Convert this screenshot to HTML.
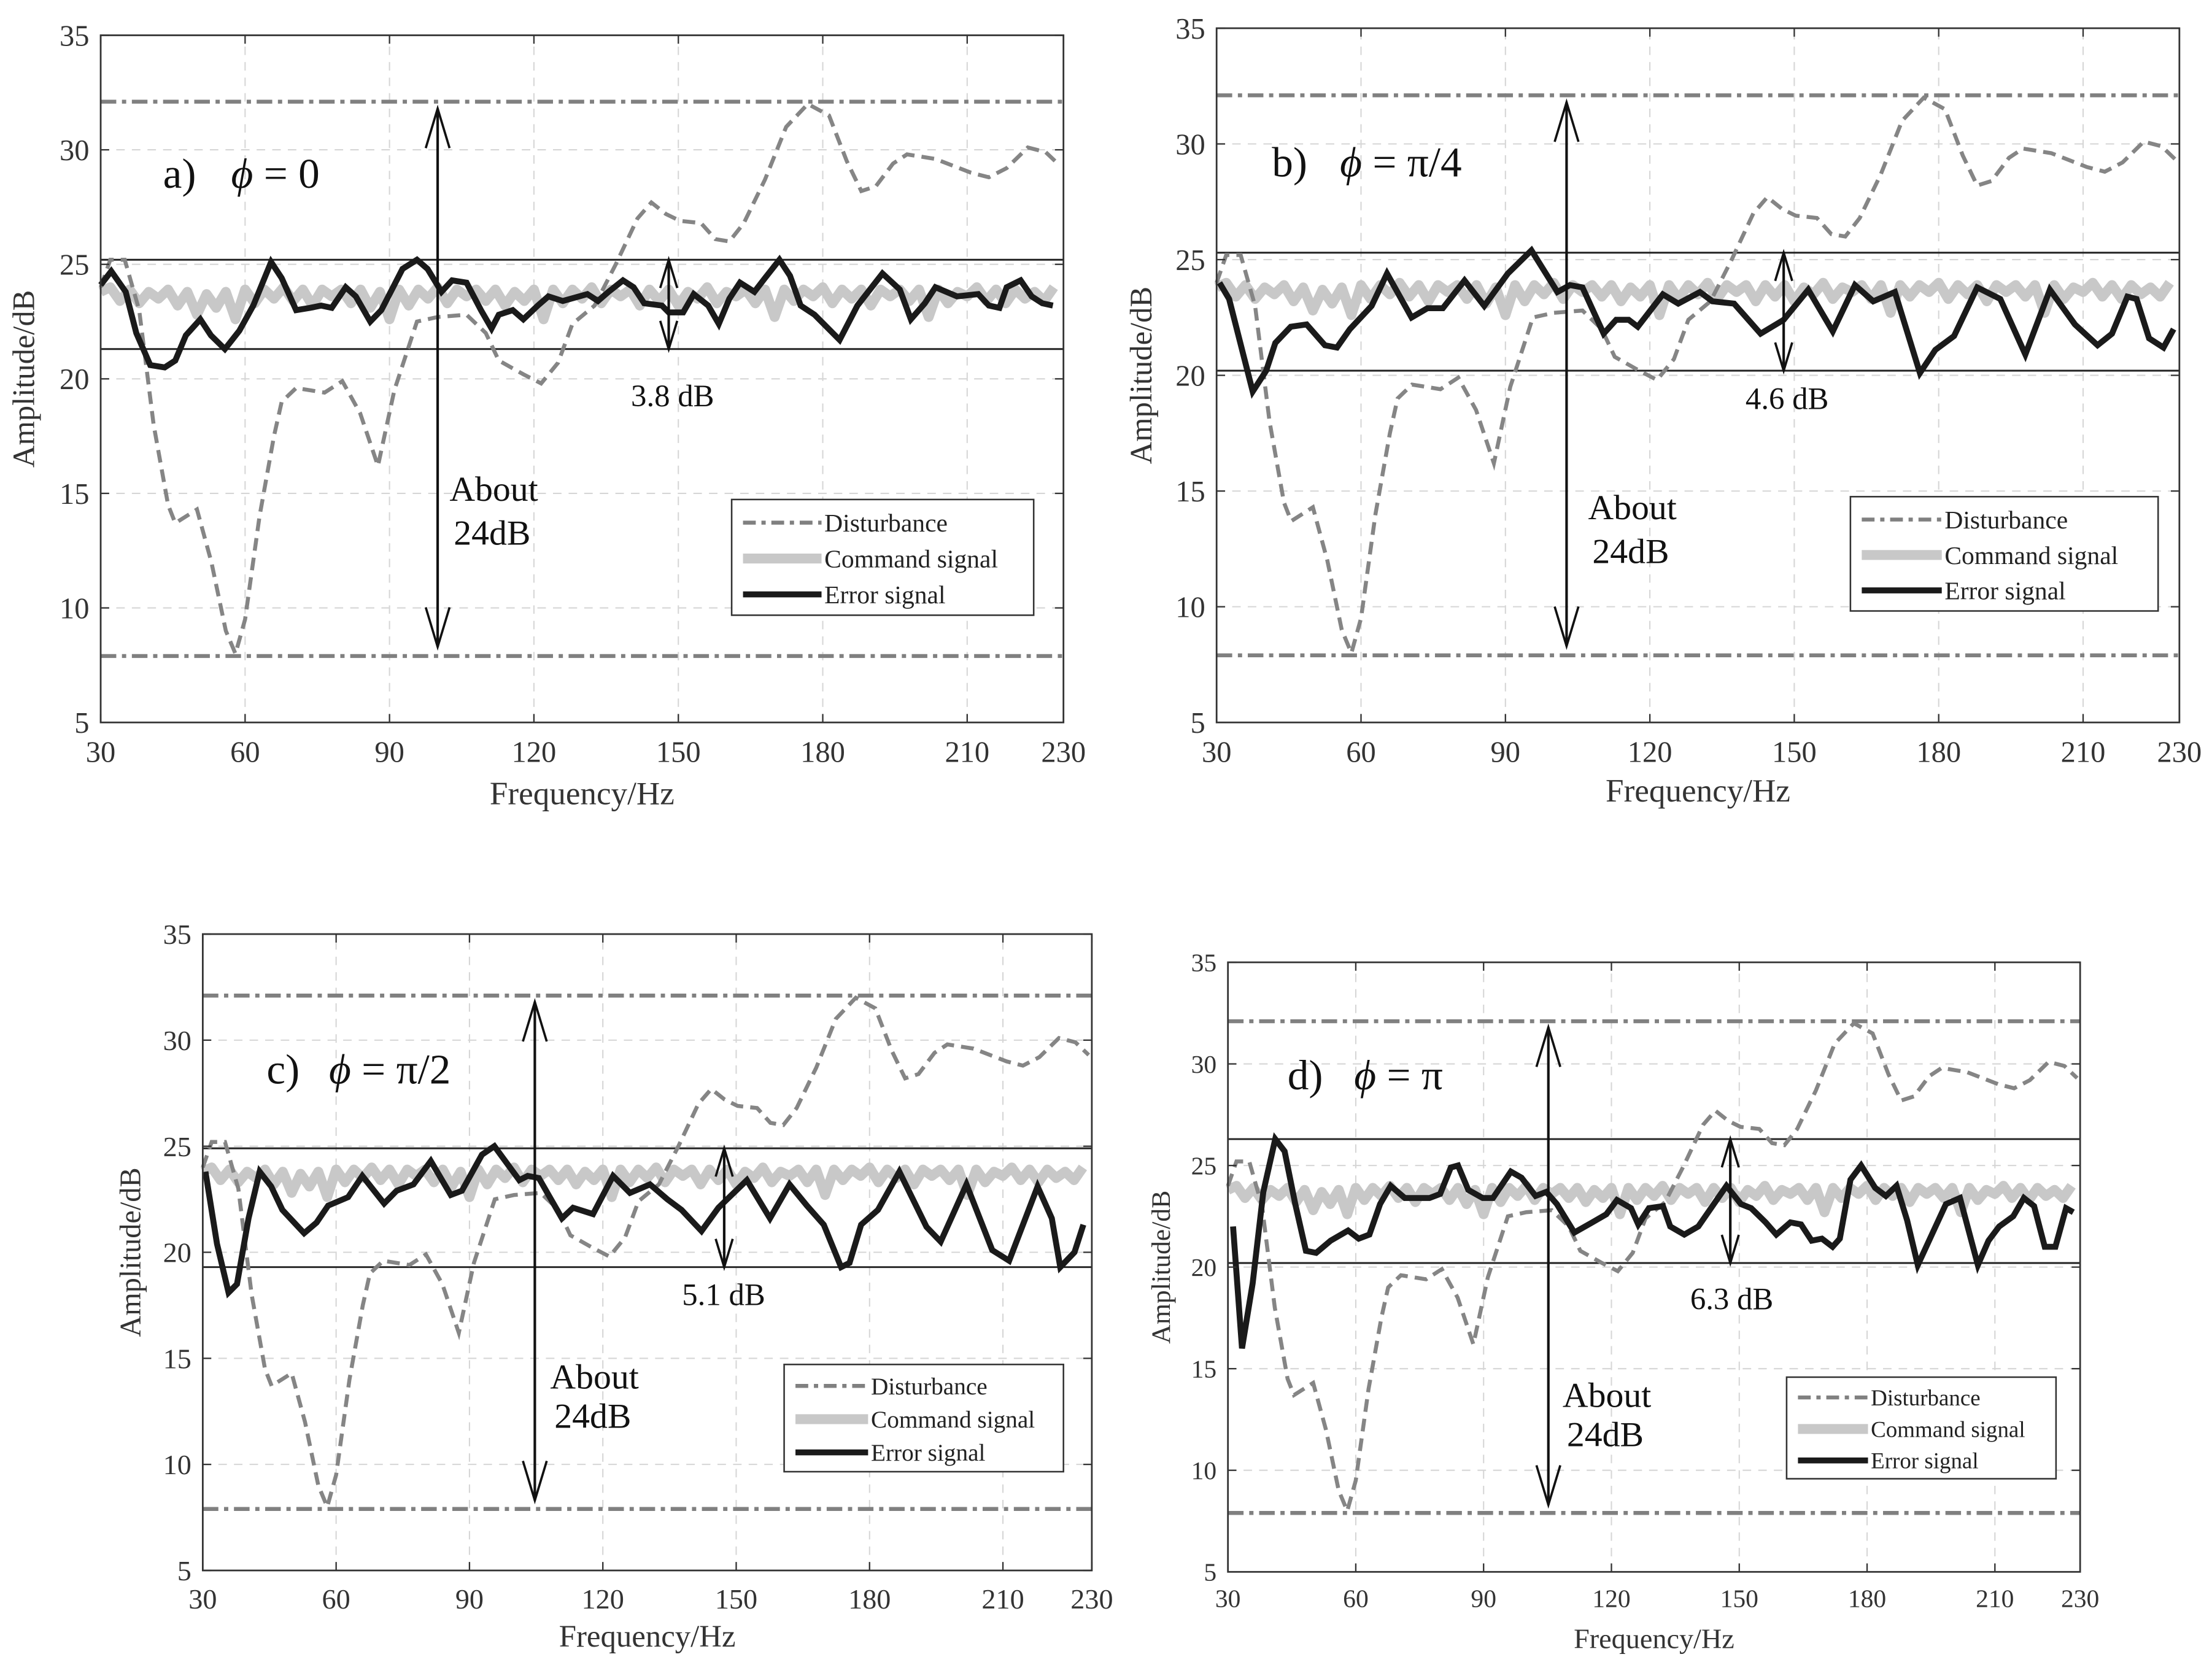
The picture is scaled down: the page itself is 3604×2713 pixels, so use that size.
<!DOCTYPE html>
<html><head><meta charset="utf-8"><style>
html,body{margin:0;padding:0;background:#fff;}
svg{display:block;font-family:"Liberation Serif",serif;}
</style></head><body>
<svg id="fig" width="3604" height="2713" viewBox="0 0 1560 1180" preserveAspectRatio="none" xmlns="http://www.w3.org/2000/svg"></svg>
<script>
// ---- shared data ----
const distFreq = [30,32,35,38,41,44,45.5,50,53,56,58,60,63,66,67.6,70.6,76.5,80.2,83.9,87.6,91,95.7,100,106,110,112.7,117.8,121.5,125,128,132.6,137,141.5,144.4,147.4,150.3,154.7,157.7,160.6,163.6,168,172.4,176.9,181.3,185,188,191,194.6,197.5,203.4,210.8,214.5,218.2,222.6,226.3,229.3];
const distVals = [24,25.2,25.2,23,18,14.5,13.7,14.3,12,9,8,9.5,14,17.5,19,19.6,19.4,19.9,18.5,16.2,19.5,22.5,22.7,22.8,22,20.8,20.2,19.8,20.7,22.4,23.2,25,27,27.7,27.2,26.9,26.8,26.1,26,26.8,28.7,31,32,31.5,29.5,28.2,28.4,29.4,29.8,29.6,29,28.8,29.2,30.1,29.9,29.3];
const cmdVals = [23.8,24.0,23.4,23.9,23.3,23.8,23.5,23.9,23.2,23.8,22.8,23.7,23.1,23.8,22.6,23.9,23.3,23.9,23.5,24.0,23.4,23.9,23.2,23.9,23.6,23.9,23.3,23.9,23.1,23.8,22.6,23.9,23.2,23.9,23.5,24.0,23.3,23.9,23.6,23.9,23.4,23.9,23.2,23.8,23.4,23.9,22.6,23.9,23.3,23.9,23.5,24.0,23.3,23.9,23.6,23.9,23.2,23.9,23.4,23.9,23.2,23.8,23.5,24.0,23.3,23.8,23.6,23.9,23.3,23.9,22.7,23.9,23.4,23.9,23.6,24.0,23.3,23.9,23.5,23.9,23.2,23.9,23.6,23.9,23.4,23.9,22.7,23.9,23.3,23.8,23.6,24.0,23.4,23.9,23.3,23.9,23.5,23.8,23.4,24.0];
const xTicks = [30,60,90,120,150,180,210,230];
const yTicks = [5,10,15,20,25,30,35];
const distLevels = [32.1,7.9];
// ---- error signals ----
const errAFreq = [30,32.2,35.2,37.4,40.3,43.3,45.5,47.7,50.7,52.9,55.8,58.8,61.7,65.4,67.6,70.6,73.5,75.8,78,80.9,83,86,88.3,92.7,95.7,97.9,100.8,103,106,109,111.2,112.7,115.6,117.8,120.8,123,126,131.1,133.3,135.5,138.5,140.7,142.9,146.6,148,151,153.2,156.2,158.4,160.6,162.8,165.8,168,171,173.2,175.4,178.3,183.5,187.2,192.4,196,198.3,201.2,203.4,207.9,212.3,214.5,216.7,218.2,221.1,223.4,225.6,227.8];
const errAVals = [24.1,24.7,23.8,22,20.6,20.5,20.8,21.9,22.6,21.9,21.3,22.1,23.2,25.1,24.4,23,23.1,23.2,23.1,24,23.6,22.5,23,24.8,25.2,24.8,23.8,24.3,24.2,23,22.2,22.8,23,22.6,23.2,23.6,23.4,23.7,23.4,23.8,24.3,24,23.3,23.2,22.9,22.9,23.7,23.2,22.4,23.5,24.2,23.8,24.4,25.2,24.5,23.2,22.8,21.7,23.2,24.6,23.9,22.6,23.3,24,23.6,23.7,23.2,23.1,24,24.3,23.6,23.3,23.2];
const errBFreq = [30.6,32.6,37.5,40.3,42.2,45.4,48.7,52.5,55,57.7,62.2,65.4,70.5,73.8,77,81.5,85.6,90.5,95.4,100.8,103.4,106,110.4,113,115.6,117.5,122.7,125.9,130.4,133,137.5,143,147.8,152.9,158,162.6,166.4,170.9,176.1,179.3,183.2,188,192.8,198,203.1,208.3,213,216,219.2,221.1,223.7,226.7,228.8];
const errBVals = [24,23.3,19.3,20.2,21.4,22.1,22.2,21.3,21.2,22,23,24.4,22.5,22.9,22.9,24.1,23,24.4,25.4,23.6,23.9,23.8,21.8,22.4,22.4,22.1,23.5,23.1,23.6,23.2,23.1,21.8,22.4,23.7,21.9,23.9,23.2,23.6,20.1,21.1,21.7,23.8,23.3,20.9,23.7,22.2,21.3,21.8,23.4,23.3,21.6,21.2,22];
const errCFreq = [30.6,33.2,35.8,37.7,40.3,42.8,45.4,47.9,52.8,55.6,58.2,62.7,65.9,70.8,73.6,77.4,81.3,85.8,88.3,92.8,95.6,101.2,103.1,105.6,110.8,113.3,117.8,122.3,126.1,130.6,134.5,137.7,142.2,146,152.4,157.6,162,165.9,169.7,173.6,175.5,178.1,181.9,186.7,192.8,196,201.8,207.6,211.4,217.8,221,222.9,226.1,228.1];
const errCVals = [23.8,20.4,18.1,18.5,21.6,23.8,23.1,22,20.9,21.4,22.2,22.6,23.6,22.3,22.9,23.2,24.3,22.7,22.9,24.6,25,23.4,23.6,23.5,21.6,22.1,21.8,23.6,22.8,23.2,22.5,22,21,22.1,23.4,21.6,23.2,22.2,21.3,19.3,19.5,21.3,22,23.8,21.2,20.5,23.2,20.1,19.6,23.1,21.6,19.3,20,21.3];
const errDFreq = [31.2,33.3,35.8,38.3,41.1,43.3,45.8,48.3,50.7,54.1,58.2,60.7,63.2,65.7,68.2,71.5,74,77.3,79.8,82.3,84,86.4,89.8,92.2,96.4,98.9,102.2,104.7,107.2,111.3,115.5,118.8,121.3,124.6,126.3,128.8,132.1,133.8,137.1,140.4,143.7,147,150.4,152.8,156.2,158.7,162,164.5,167,169.4,171.9,173.6,176.1,178.6,181.9,184.4,186.9,189.4,191.9,195.2,198.5,201.8,206,208.5,211,214.3,216.8,219.2,221.7,224.2,226.7,228.4];
const errDVals = [22,16,19.2,23.7,26.3,25.7,23.1,20.8,20.7,21.3,21.8,21.4,21.6,23.1,24,23.4,23.4,23.4,23.6,24.9,25,23.8,23.4,23.4,24.7,24.4,23.5,23.7,23.1,21.7,22.2,22.6,23.3,22.9,22.1,22.9,23,22,21.6,22,23,24,23.1,22.9,22.2,21.6,22.2,22.1,21.3,21.4,21,21.4,24.3,25,23.9,23.5,24,22.3,20.1,21.6,23.1,23.4,20.1,21.3,22,22.5,23.4,23,21,21,22.9,22.7];

const svg = document.getElementById('fig');
const NS = 'http://www.w3.org/2000/svg';
function mk(tag, attrs, parent){const e=document.createElementNS(NS,tag);for(const k in attrs)e.setAttribute(k,attrs[k]);(parent||svg).appendChild(e);return e;}

const panels = [
 {id:'a',x0:71,x1:750,y0:512,y1:25,fs:21,ylx:24,xly:570,errF:errAFreq,errV:errAVals,band:[25.2,21.3],bigF:100,smallF:148,
  leg:[516,354,213,82,18],lbl:'a)',lx:115,ly:133,phi:'= 0',px:163,dbT:'3.8 dB',dbx:445,dby:288,abx:317,aby:355},
 {id:'b',x0:858,x1:1537,y0:512,y1:20,fs:21,ylx:812,xly:568,errF:errBFreq,errV:errBVals,band:[25.3,20.2],bigF:102.7,smallF:147.8,
  leg:[1305,352,217,81,18],lbl:'b)',lx:897,ly:125,phi:'= π/4',px:945,dbT:'4.6 dB',dbx:1231,dby:290,abx:1120,aby:368},
 {id:'c',x0:143,x1:770,y0:1113,y1:662,fs:20,ylx:99,xly:1167,errF:errCFreq,errV:errCVals,band:[24.9,19.3],bigF:104.7,smallF:147.3,
  leg:[553,967,197,76,17],lbl:'c)',lx:188,ly:768,phi:'= π/2',px:232,dbT:'5.1 dB',dbx:481,dby:925,abx:388,aby:984},
 {id:'d',x0:866,x1:1467,y0:1114,y1:682,fs:18,ylx:825,xly:1168,errF:errDFreq,errV:errDVals,band:[26.3,20.2],bigF:105.2,smallF:147.9,
  leg:[1260,976,190,72,16],lbl:'d)',lx:908,ly:772,phi:'= π',px:955,dbT:'6.3 dB',dbx:1192,dby:928,abx:1102,aby:997}
];

panels.forEach(p=>{
  const g = mk('g',{});
  
  
  const X = f => p.x0 + (f-30)/200*(p.x1-p.x0);
  const Y = v => p.y0 - (v-5)/30*(p.y0-p.y1);
  xTicks.forEach(t=>{ if(t>30&&t<230){const l=mk('line',{x1:X(t),x2:X(t),y1:p.y0,y2:p.y1,stroke:'#d6d6d6','stroke-width':0.9,'stroke-dasharray':'6,5'},g);
    }});
  yTicks.forEach(t=>{ if(t>5&&t<35){const l=mk('line',{x1:p.x0,x2:p.x1,y1:Y(t),y2:Y(t),stroke:'#d6d6d6','stroke-width':0.9,'stroke-dasharray':'6,5'},g);
    }});
  distLevels.forEach(v=>{const l=mk('line',{x1:p.x0,x2:p.x1,y1:Y(v),y2:Y(v),stroke:'#808080','stroke-width':2.8,'stroke-dasharray':'11,4,3,4'},g);
    });
  p.band.forEach(v=>{const l=mk('line',{x1:p.x0,x2:p.x1,y1:Y(v),y2:Y(v),stroke:'#222','stroke-width':1.3},g);
    });
  const cmd = mk('polyline',{points:cmdVals.map((v,i)=>X(30+i*2)+','+Y(v)).join(' '),fill:'none',stroke:'#c8c8c8','stroke-width':7,'stroke-linejoin':'round'},g);
  
  const dist = mk('polyline',{points:distFreq.map((f,i)=>X(f)+','+Y(distVals[i])).join(' '),fill:'none',stroke:'#858585','stroke-width':2.8,'stroke-dasharray':'9,5'},g);
  
  const err = mk('polyline',{points:p.errF.map((f,i)=>X(f)+','+Y(p.errV[i])).join(' '),fill:'none',stroke:'#1a1a1a','stroke-width':4.2,'stroke-linejoin':'miter'},g);
  
  function arrow(f,v1,v2,name,hl){
    const a=mk('g',{},g);
    
    const x=X(f),ya=Y(v1),yb=Y(v2);
    mk('line',{x1:x,x2:x,y1:ya,y2:yb,stroke:'#111','stroke-width':1.8},a);
    mk('polyline',{points:(x-hl*0.3)+','+(ya+hl)+' '+x+','+ya+' '+(x+hl*0.3)+','+(ya+hl),fill:'none',stroke:'#111','stroke-width':1.6},a);
    mk('polyline',{points:(x-hl*0.3)+','+(yb-hl)+' '+x+','+yb+' '+(x+hl*0.3)+','+(yb-hl),fill:'none',stroke:'#111','stroke-width':1.6},a);
  }
  arrow(p.bigF,31.8,8.3,'about-24db-arrow',28);
  arrow(p.smallF,p.band[0],p.band[1],'band-arrow',20);
  const box=mk('rect',{x:p.x0,y:p.y1,width:p.x1-p.x0,height:p.y0-p.y1,fill:'none',stroke:'#333','stroke-width':1.2},g);
  
  xTicks.forEach(t=>{
    mk('line',{x1:X(t),x2:X(t),y1:p.y0,y2:p.y0-6,stroke:'#333','stroke-width':1},g);
    mk('line',{x1:X(t),x2:X(t),y1:p.y1,y2:p.y1+6,stroke:'#333','stroke-width':1},g);
    const tx=mk('text',{x:X(t),y:p.y0+p.fs+7,'font-size':p.fs,'text-anchor':'middle',fill:'#333'},g);tx.textContent=t;
    
  });
  yTicks.forEach(t=>{
    mk('line',{x1:p.x0,x2:p.x0+6,y1:Y(t),y2:Y(t),stroke:'#333','stroke-width':1},g);
    mk('line',{x1:p.x1,x2:p.x1-6,y1:Y(t),y2:Y(t),stroke:'#333','stroke-width':1},g);
    const ty=mk('text',{x:p.x0-8,y:Y(t)+p.fs*0.35,'font-size':p.fs,'text-anchor':'end',fill:'#333'},g);ty.textContent=t;
    
  });
  const xl=mk('text',{x:(p.x0+p.x1)/2,y:p.xly,'font-size':p.fs+2,'text-anchor':'middle',fill:'#333'},g);xl.textContent='Frequency/Hz';
  
  const yc=(p.y0+p.y1)/2;
  const yl=mk('text',{x:p.ylx,y:yc,'font-size':p.fs+1,'text-anchor':'middle',fill:'#333',transform:'rotate(-90 '+p.ylx+' '+yc+')'},g);yl.textContent='Amplitude/dB';
  
  const pl=mk('text',{x:p.lx,y:p.ly,'font-size':30,fill:'#111'},g);pl.textContent=p.lbl;
  
  const ph=mk('text',{x:p.px,y:p.ly,'font-size':30,fill:'#111'},g);
  
  const ts=mk('tspan',{'font-style':'italic'},ph);ts.textContent='ϕ';
  const ts2=mk('tspan',{},ph);ts2.textContent=' '+p.phi;
  const db=mk('text',{x:p.dbx,y:p.dby,'font-size':22,fill:'#111'},g);db.textContent=p.dbT;
  
  const ab=mk('text',{x:p.abx,y:p.aby,'font-size':25,fill:'#111'},g);
  
  const t1=mk('tspan',{x:p.abx,dy:0},ab);t1.textContent='About';
  const t2=mk('tspan',{x:p.abx+3,dy:p.id==='c'||p.id==='d'?28:31},ab);t2.textContent='24dB';
  const [lx,ly,lw,lh,lf]=p.leg;
  const lg=mk('g',{},g);
  
  mk('rect',{x:lx,y:ly,width:lw,height:lh,fill:'#fff',stroke:'#333','stroke-width':1.1},lg);
  const items=[['Disturbance','#808080',2.8,'9,4,3,4'],['Command signal','#c8c8c8',7,''],['Error signal','#1a1a1a',4.2,'']];
  const lineLen=lw*0.26;
  items.forEach((it,i)=>{
    const cy=ly+lh*(0.2+0.31*i);
    const e=mk('g',{},lg);
    
    const la={x1:lx+8,x2:lx+8+lineLen,y1:cy,y2:cy,stroke:it[1],'stroke-width':it[2]};
    if(it[3])la['stroke-dasharray']=it[3];
    mk('line',la,e);
    const tt=mk('text',{x:lx+10+lineLen,y:cy+lf*0.35,'font-size':lf,fill:'#222'},e);tt.textContent=it[0];
  });
});
</script>
</body></html>
